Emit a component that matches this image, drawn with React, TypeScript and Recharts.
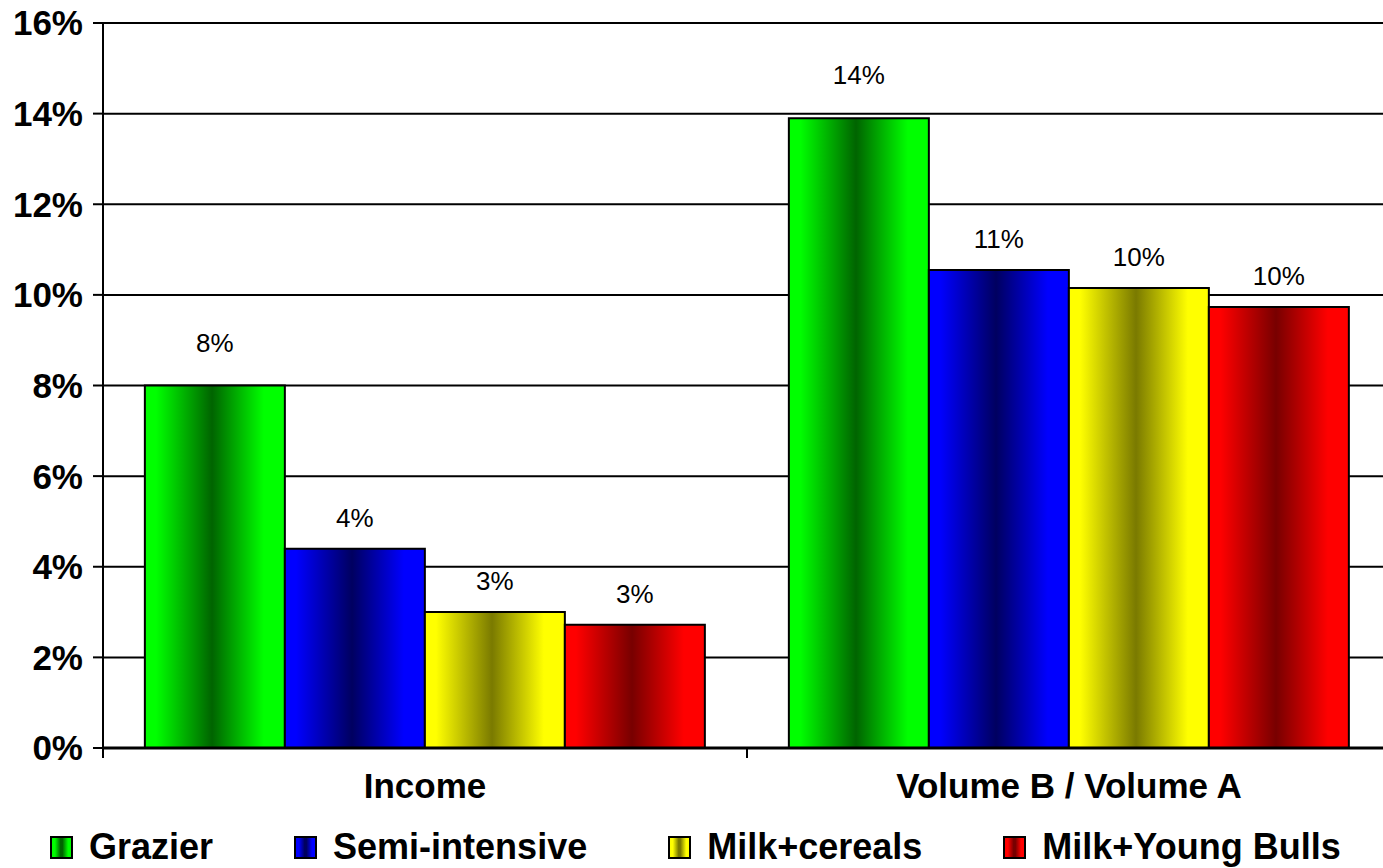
import { BarChart, Bar, XAxis, YAxis, CartesianGrid, LabelList } from "recharts";

const categories = ["Income", "Volume B / Volume A"];
const grazier = [8.0, 13.9];
const semiIntensive = [4.4, 10.55];
const milkCereals = [3.0, 10.15];
const milkYoungBulls = [2.72, 9.73];
const yTicks = [0, 2, 4, 6, 8, 10, 12, 14, 16];

const FONT = "'Liberation Sans', Arial, sans-serif";

const CHART_W = 1400;
const CHART_H = 868;
const Y_AXIS_W = 103;
const MARGIN = { top: 23, right: 9, left: 0, bottom: 60 };
const HALF_BAND =
  (CHART_W - Y_AXIS_W - MARGIN.left - MARGIN.right) / categories.length / 2;

const data = categories.map((name, i) => ({
  name,
  grazier: grazier[i],
  semi: semiIntensive[i],
  cereals: milkCereals[i],
  bulls: milkYoungBulls[i],
}));

const series = [
  { key: "grazier", label: "Grazier", light: "#00ff00", dark: "#006400", offset: 34 },
  { key: "semi", label: "Semi-intensive", light: "#0000ff", dark: "#000060", offset: 22 },
  { key: "cereals", label: "Milk+cereals", light: "#ffff00", dark: "#7a7a00", offset: 22 },
  { key: "bulls", label: "Milk+Young Bulls", light: "#ff0000", dark: "#780000", offset: 22 },
];

// Excel-style category axis: ticks sit on the band edges, labels in the middle
const CategoryTick = (props: any) => {
  const { x, y, payload, index } = props;
  const left = x - HALF_BAND;
  const right = x + HALF_BAND;
  return (
    <g>
      <line x1={left} x2={left} y1={y - 25} y2={y - 15} stroke="#000" strokeWidth={2} />
      {index === categories.length - 1 && (
        <line x1={right} x2={right} y1={y - 25} y2={y - 15} stroke="#000" strokeWidth={2} />
      )}
      <text
        x={x}
        y={y}
        dy="0.71em"
        textAnchor="middle"
        fontFamily={FONT}
        fontWeight="bold"
        fontSize={35}
        fill="#000"
      >
        {payload.value}
      </text>
    </g>
  );
};

const LegendRow = () => (
  <div
    style={{
      position: "absolute",
      left: 50,
      top: 830,
      height: 34,
      display: "flex",
      alignItems: "center",
      gap: 81,
      fontFamily: FONT,
      fontWeight: "bold",
      fontSize: 36,
      color: "#000",
      whiteSpace: "nowrap",
    }}
  >
    {series.map((s) => (
      <div key={s.key} style={{ display: "flex", alignItems: "center", gap: 16 }}>
        <span
          style={{
            display: "inline-block",
            width: 19,
            height: 19,
            border: "2px solid #000",
            background: `linear-gradient(to right, ${s.light} 0%, ${s.light} 15%, ${s.dark} 45%, ${s.dark} 55%, ${s.light} 85%, ${s.light} 100%)`,
          }}
        />
        <span style={{ lineHeight: "34px" }}>{s.label}</span>
      </div>
    ))}
  </div>
);

export default function App() {
  return (
    <div
      style={{
        position: "absolute",
        left: 0,
        top: 0,
        width: 1383,
        height: 868,
        overflow: "hidden",
        background: "#fff",
      }}
    >
      <BarChart
        width={CHART_W}
        height={CHART_H}
        data={data}
        margin={MARGIN}
        barCategoryGap="6.5%"
        barGap={0}
      >
        <defs>
          {series.map((s) => (
            <linearGradient key={s.key} id={`grad-${s.key}`} x1="0" y1="0" x2="1" y2="0">
              <stop offset="0%" stopColor={s.light} />
              <stop offset="8%" stopColor={s.light} />
              <stop offset="48%" stopColor={s.dark} />
              <stop offset="85%" stopColor={s.light} />
              <stop offset="100%" stopColor={s.light} />
            </linearGradient>
          ))}
        </defs>
        <CartesianGrid vertical={false} stroke="#000" strokeWidth={2} />
        <XAxis
          dataKey="name"
          height={60}
          axisLine={{ stroke: "#000", strokeWidth: 3 }}
          tickLine={false}
          tickSize={10}
          tickMargin={15}
          tick={<CategoryTick />}
          interval={0}
        />
        <YAxis
          width={Y_AXIS_W}
          domain={[0, 16]}
          ticks={yTicks}
          interval={0}
          tickFormatter={(v) => `${v}%`}
          axisLine={{ stroke: "#000", strokeWidth: 2 }}
          tickLine={{ stroke: "#000", strokeWidth: 2 }}
          tickSize={10}
          tickMargin={10}
          tick={{ fill: "#000", fontSize: 35, fontWeight: "bold", fontFamily: FONT }}
        />
        {series.map((s) => (
          <Bar
            key={s.key}
            dataKey={s.key}
            name={s.label}
            fill={`url(#grad-${s.key})`}
            stroke="#000"
            strokeWidth={2}
            isAnimationActive={false}
          >
            <LabelList
              dataKey={s.key}
              position="top"
              offset={s.offset}
              formatter={(v: any) => `${Math.round(Number(v))}%`}
              style={{ fill: "#000", fontSize: 26, fontFamily: FONT }}
            />
          </Bar>
        ))}
      </BarChart>
      <LegendRow />
    </div>
  );
}
